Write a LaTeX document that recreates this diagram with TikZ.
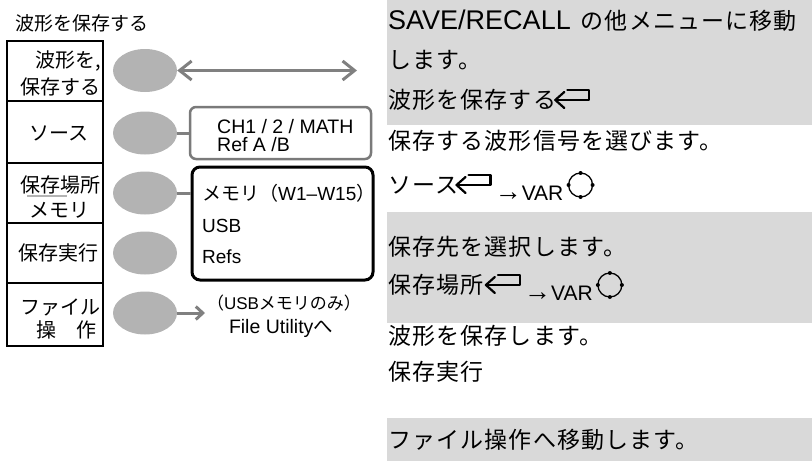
\documentclass[tikz,border=0pt]{standalone}
\usepackage{fontspec}
\setmainfont{Liberation Sans}
\newfontfamily\jp{Noto Sans CJK JP}
\newfontfamily\jpw[LetterSpace=5]{Noto Sans CJK JP}
\usetikzlibrary{shapes.geometric,arrows.meta}
\definecolor{bandc}{HTML}{D9D9D9}
\definecolor{ovalc}{HTML}{B3B3B3}
\definecolor{arrc}{HTML}{808080}
\definecolor{srcb}{HTML}{7A7A7A}
\begin{document}
\begin{tikzpicture}[x=1pt,y=-1pt,
  cell/.style={draw=black,line width=1.3pt,minimum width=96pt,inner sep=0},
  lbl/.style={inner sep=0,font=\jp\fontsize{20}{22}\selectfont},
  oval/.style={ellipse,fill=ovalc,minimum width=64pt,minimum height=43pt,inner sep=0},
  gline/.style={draw=arrc,line width=3pt},
  rt/.style={inner sep=0,anchor=west,font=\jpw\fontsize{23}{26}\selectfont},
  vart/.style={inner sep=0,anchor=base west,font=\fontsize{21}{22}\selectfont},
  retline/.style={line width=2.2pt,line cap=round,line join=round},
  retico/.pic={\draw[retline] (12,-10) -- (34,-10) -- (34,0) -- (0,0);
               \draw[retline] (9,-8) -- (0,0) -- (9,8);},
  knob/.pic={\draw[line width=1.3pt] (0,0) circle[radius=12pt];
             \fill (0,-12) circle[radius=2pt]; \fill (0,12) circle[radius=2pt];
             \fill (-12,0) circle[radius=2pt]; \fill (12,0) circle[radius=2pt];}
]
\useasboundingbox (0,0) rectangle (812,461);
% right bands
\fill[bandc] (387,0) rectangle (812,125);
\fill[bandc] (387,212) rectangle (812,323);
\fill[bandc] (387,418) rectangle (812,461);

% title
\node[inner sep=0,anchor=west,font=\jp\fontsize{19}{21}\selectfont] (title) at (15,23) {波形を保存する};

% menu cells
\node[cell,minimum height=60pt] (m1) at (55,71) {};
\node[cell,minimum height=62pt] (m2) at (55,132) {};
\node[cell,minimum height=60pt] (m3) at (55,193) {};
\node[cell,minimum height=60pt] (m4) at (55,253) {};
\node[cell,minimum height=63pt] (m5) at (55,314.5) {};

\node[lbl,anchor=east] (l1a) at (101,61) {波形を,};
\node[lbl,anchor=east] (l1b) at (101,87) {保存する};
\node[lbl] (l2) at (59,133) {ソース};
\node[lbl] (l3a) at (60,185) {保存場所};
\draw[ovalc,line width=1.5pt] (27,196) -- (67,196);
\node[lbl] (l3b) at (59,210) {メモリ};
\node[lbl] (l4) at (59,253) {保存実行};
\node[lbl,anchor=east] (l5a) at (101,307) {ファイル};
\node[lbl] (l5b) at (66,330) {操　作};

% ovals
\node[oval] (o1) at (145,70.5) {};
\node[oval] (o2) at (145,133) {};
\node[oval] (o3) at (145,193) {};
\node[oval] (o4) at (145,253) {};
\node[oval] (o5) at (145,313) {};

% row 1 double arrow
\coordinate (a1) at (357,70.5);
\draw[gline,{Straight Barb[length=12pt,width=19pt]}-{Straight Barb[length=12pt,width=19pt]}] (o1.east) -- (a1);

% source box
\node[draw=srcb,line width=2.5pt,rounded corners=6pt,minimum width=181pt,minimum height=52pt,inner sep=0] (src) at (280.5,133) {};
\node[inner sep=0,anchor=north west,align=left,font=\fontsize{19.5}{18}\selectfont] (srct) at (217,119) {CH1 / 2 / MATH\\Ref A /B};
\draw[gline] (o2.east) -- (src.west);

% memory box
\node[draw=black,line width=3pt,rounded corners=8pt,minimum width=181pt,minimum height=113pt,inner sep=0] (mem) at (282.5,223.5) {};
\node[inner sep=0,anchor=west,font=\fontsize{19}{21}\selectfont] (mem1) at (202,193) {{\jp メモリ（}W1–W15{\jp ）}};
\node[inner sep=0,anchor=west,font=\fontsize{19}{21}\selectfont] (mem2) at (202,226) {USB};
\node[inner sep=0,anchor=west,font=\fontsize{19}{21}\selectfont] (mem3) at (202,257) {Refs};
\draw[gline] (o3.east) -- (o3.east -| mem.west);

% row 5 arrow
\coordinate (a5) at (205,313);
\draw[gline,-{Straight Barb[length=7pt,width=13pt]}] (o5.east) -- (a5);
\node[inner sep=0,font=\fontsize{17}{18}\selectfont] (fu1) at (284,303) {{\jp （}USB{\jp メモリのみ）}};
\node[inner sep=0,font=\fontsize{19.5}{20}\selectfont] (fu2) at (281,328) {File Utility{\jp へ}};

% right texts
\node[rt] (r1) at (388,21) {{\rmfamily\fontsize{27}{28}\selectfont SAVE/RECALL}\hspace{10pt}の他メニューに移動};
\node[rt] (r2) at (388,60) {します。};
\node[rt] (r3) at (388,100) {波形を保存する};
\pic at ([xshift=-1pt]r3.east) {retico};
\node[rt] (r4) at (388,141) {保存する波形信号を選びます。};
\node[rt] (r5) at (388,185) {ソース};
\pic at ([xshift=-2pt]r5.east) {retico};
\node[vart] (v5) at ([xshift=36pt,yshift=-15pt]r5.east) {{\fontsize{27}{28}\selectfont →}VAR};
\pic at ([xshift=17pt,yshift=15pt]v5.base east) {knob};
\node[rt] (r6) at (388,247) {保存先を選択します。};
\node[rt] (r7) at (388,285) {保存場所};
\pic at ([xshift=2pt]r7.east) {retico};
\node[vart] (v7) at ([xshift=40pt,yshift=-15pt]r7.east) {{\fontsize{27}{28}\selectfont →}VAR};
\pic at ([xshift=17pt,yshift=15pt]v7.base east) {knob};
\node[rt] (r8) at (388,336) {波形を保存します。};
\node[rt] (r9) at (388,372) {保存実行};
\node[rt] (r10) at (388,440) {ファイル操作へ移動します。};
\end{tikzpicture}
\end{document}
